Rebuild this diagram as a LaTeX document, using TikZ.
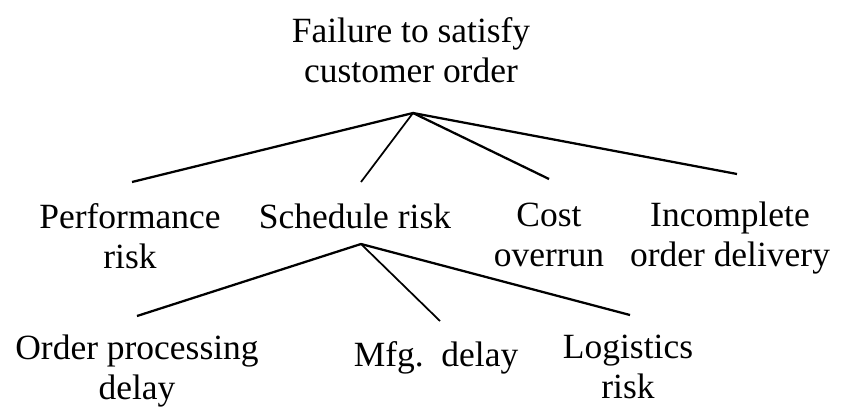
\documentclass[tikz,border=0pt]{standalone}
\usepackage{fontspec}
\setmainfont{Liberation Serif}
\usetikzlibrary{positioning,calc}

\begin{document}
\begin{tikzpicture}[
    x=0.75pt, y=-0.75pt,
    risklbl/.style={
        align=center,
        inner sep=0pt,
        anchor=base,
        font=\fontsize{26.6}{29.8}\selectfont
    },
    branch/.style={line width=1.7pt, black},
    thinbranch/.style={line width=1.3pt, black}
]

% --- Canvas ---
\useasboundingbox (0,0) rectangle (841,408);

% --- Top event (base = last line) ---
\node[risklbl] (root) at (411,82) {Failure to satisfy\\customer order};

% --- First level ---
\node[risklbl] (perf)   at (130,268) {Performance\\risk};
\node[risklbl] (sched)  at (355,228) {Schedule risk};
\node[risklbl] (cost)   at (549,266) {Cost\\overrun};
\node[risklbl] (incomp) at (730,266) {Incomplete\\order delivery};

% --- Second level (schedule risk) ---
\node[risklbl] (order) at (137,399) {Order processing\\delay};
\node[risklbl] (mfg)   at (436,366) {Mfg.\ \ delay};
\node[risklbl] (logi)  at (628,398) {Logistics\\risk};

% --- Join points and branch tips ---
\coordinate (rootjoin)   at (413,113);
\coordinate (schedjoin)  at (361,244);
\coordinate (perf-tip)   at (132,182);
\coordinate (sched-tip)  at (361,182);
\coordinate (cost-tip)   at (549,179);
\coordinate (incomp-tip) at (737,174);
\coordinate (order-tip)  at (137,316);
\coordinate (mfg-tip)    at (440,321);
\coordinate (logi-tip)   at (630,315);

% --- Branches ---
\foreach \tip in {perf-tip, cost-tip, incomp-tip}
    \draw[branch] (rootjoin) -- (\tip);
\draw[thinbranch] (rootjoin) -- (sched-tip);

\foreach \tip in {order-tip, logi-tip}
    \draw[branch] (schedjoin) -- (\tip);
\draw[thinbranch] (schedjoin) -- (mfg-tip);

\end{tikzpicture}
\end{document}
